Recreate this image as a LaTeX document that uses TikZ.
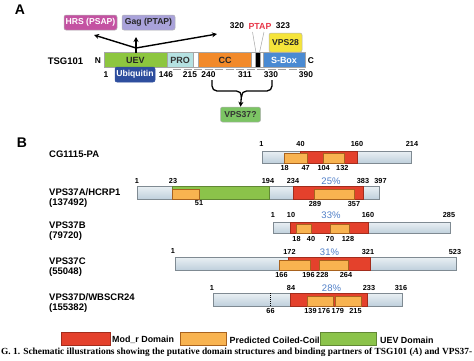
\documentclass[tikz,border=0pt]{standalone}
\usepackage{fontspec}
\setmainfont{Liberation Sans}
\newfontfamily\capfont{Liberation Serif}
\usetikzlibrary{arrows.meta}
\definecolor{hrs}{HTML}{C452A2}
\definecolor{gag}{HTML}{A9A2DA}
\definecolor{uev}{HTML}{8DC63F}
\definecolor{pro}{HTML}{B5E2E2}
\definecolor{ccA}{HTML}{F28A2A}
\definecolor{sbox}{HTML}{4A8AD2}
\definecolor{ubq}{HTML}{2E4E9E}
\definecolor{vps28}{HTML}{F5E43A}
\definecolor{vps37}{HTML}{7CC464}
\definecolor{ptap}{HTML}{E8384A}
\definecolor{barTop}{HTML}{EAF0F4}
\definecolor{barBot}{HTML}{BFD0DC}
\definecolor{barLine}{HTML}{7F8A92}
\definecolor{modr}{HTML}{E4412C}
\definecolor{modrLine}{HTML}{A22C1C}
\definecolor{ccB}{HTML}{F8B350}
\definecolor{ccLine}{HTML}{A8621E}
\definecolor{uevB}{HTML}{8BC34A}
\definecolor{pct}{HTML}{4F7FC8}
\tikzset{
  pbox/.style={rounded corners=2pt, draw=gray!60, line width=0.5pt, inner sep=0,
    font=\bfseries\fontsize{8.6}{9}\selectfont},
  seglbl/.style={font=\bfseries\fontsize{9}{10}\selectfont, inner sep=0},
  numA/.style={font=\bfseries\fontsize{8.4}{9}\selectfont, inner sep=0},
  numB/.style={font=\bfseries\fontsize{7.3}{8}\selectfont, inner sep=0},
  pctlbl/.style={font=\fontsize{9.5}{10}\selectfont, text=pct, inner sep=0},
  pname/.style={font=\bfseries\fontsize{9.5}{11}\selectfont, anchor=west, inner sep=0},
  conn/.style={line width=1.4pt, -{Stealth[length=5pt,width=5pt]}},
  bar/.style={draw=barLine, line width=0.6pt, top color=barTop, bottom color=barBot},
  modrbox/.style={draw=modrLine, line width=0.5pt, fill=modr},
  ccbox/.style={draw=ccLine, line width=0.5pt, fill=ccB},
  uevbox/.style={draw=uevB!70!black, line width=0.5pt, fill=uevB},
  panel/.style={font=\bfseries\fontsize{14}{14}\selectfont, inner sep=0},
  legtxt/.style={font=\bfseries\fontsize{8.9}{10}\selectfont, anchor=west, inner sep=0}
}
\begin{document}
\begin{tikzpicture}[x=1pt,y=-1pt]
\useasboundingbox (0,0) rectangle (474,360);
\fill[white] (0,0) rectangle (474,360);

% ---------------- Panel A ----------------
\node[panel] (labA) at (20,10) {A};
\node[pbox, fill=hrs, text=white, minimum width=53pt, minimum height=15pt] (hrs) at (90.5,22.5) {HRS (PSAP)};
\node[pbox, fill=gag, text=black!85, minimum width=53pt, minimum height=15pt] (gag) at (148.5,22.5) {Gag (PTAP)};

\node[font=\bfseries\fontsize{9.5}{10}\selectfont, inner sep=0] (tsg) at (65.5,61) {TSG101};
\node[numA] (nN) at (98,60.5) {N};
\node[numA] (nC) at (311,60.5) {C};

% bar segments
\fill[uev] (104,52.5) rectangle (167,67);
\fill[pro] (167,52.5) rectangle (193,67);
\fill[white] (193,52.5) rectangle (198,67);
\fill[ccA] (198,52.5) rectangle (251,67);
\fill[white] (251,52.5) rectangle (255,67);
\fill[black] (255,52.5) rectangle (260,67);
\fill[white] (260,52.5) rectangle (263,67);
\fill[sbox] (263,52.5) rectangle (305,67);
\draw[gray!70, line width=0.4pt] (104,52.5) rectangle (305,67);
\foreach \xx in {167,193,198,251,255,260,263} \draw[gray!70, line width=0.4pt] (\xx,52.5) -- (\xx,67);

\node[seglbl, text=black!85] (tUEV) at (135.5,60) {UEV};
\node[seglbl, text=black!80] (tPRO) at (180,60) {PRO};
\node[seglbl, text=black!85] (tCC) at (225,60) {CC};
\node[seglbl, text=white] (tSB) at (284,60) {S-Box};

\draw[gray!75, line width=1.3pt, dash pattern=on 8pt off 2.5pt] (173,69.3) -- (305,69.3);

\node[pbox, fill=ubq, text=white, draw=ubq, minimum width=40pt, minimum height=15pt] (ubq) at (135,74.5) {Ubiquitin};

\node[numA] (a1) at (106,74.5) {1};
\node[numA] (a146) at (166,74.5) {146};
\node[numA] (a215) at (190,74.5) {215};
\node[numA] (a240) at (208.5,74.5) {240};
\node[numA] (a311) at (245,74.5) {311};
\node[numA] (a330) at (271,74.5) {330};
\node[numA] (a390) at (306,74.5) {390};

% arrows to binding partners
\coordinate (uevtop) at (136,52.5);
\coordinate (hub) at (136,48);
\coordinate (lt) at (94,35);
\coordinate (rt) at (217,34);
\coordinate (upt) at (136,37);
\draw[line width=1.4pt] (uevtop) -- (hub);
\draw[conn] (hub) -- (lt);
\draw[conn] (hub) -- (rt);
\draw[conn] (uevtop) -- (upt);

% PTAP
\node[numA] (a320) at (237,26) {320};
\node[font=\bfseries\fontsize{8.8}{9}\selectfont, text=ptap, inner sep=0] (ptap) at (260,26) {PTAP};
\node[numA] (a323) at (283,26) {323};
\coordinate (pl1) at (252.5,32);
\coordinate (pl2) at (256,52.5);
\coordinate (pr1) at (264,32);
\coordinate (pr2) at (259.5,52.5);
\draw[gray!70, line width=0.5pt] (pl1) -- (pl2);
\draw[gray!70, line width=0.5pt] (pr1) -- (pr2);

\node[pbox, fill=vps28, text=black!85, minimum width=33pt, minimum height=19pt] (vps28) at (285.5,42.5) {VPS28};

% brace to VPS37?
\node[pbox, fill=vps37, text=black!80, minimum width=40pt, minimum height=15pt] (vps37) at (240.5,114.5) {VPS37?};
\coordinate (brL) at (212,80);
\coordinate (brR) at (272,80);
\coordinate (brC) at (241.5,91);
\draw[line width=1.3pt, rounded corners=5pt] (brL) -- (212,91) -- (brC) -- (241.5,97);
\draw[line width=1.3pt, rounded corners=5pt] (brR) -- (272,91) -- (brC) -- (241.5,97);
\draw[line width=1.3pt, -{Stealth[length=5pt,width=5pt]}] (241.5,95) -- (vps37.north);

% ---------------- Panel B ----------------
\node[panel] (labB) at (22,143) {B};

\node[pname] (nCG) at (49,154) {CG1115-PA};
\node[pname] (nA) at (49,192) {VPS37A/HCRP1};
\node[pname] (nAid) at (49,203) {(137492)};
\node[pname] (nB) at (49,225.5) {VPS37B};
\node[pname] (nBid) at (49,236.5) {(79720)};
\node[pname] (nC3) at (49,261) {VPS37C};
\node[pname] (nCid) at (49,272) {(55048)};
\node[pname] (nD) at (49,297) {VPS37D/WBSCR24};
\node[pname] (nDid) at (49,308) {(155382)};

% CG1115-PA
\draw[bar] (262,151) rectangle (411,163);
\draw[modrbox] (300,151) rectangle (357,163);
\draw[ccbox] (284,153.5) rectangle (307,163);
\draw[ccbox] (323,153.5) rectangle (344,163);
\node[numB] (cg1) at (261.5,143.5) {1};
\node[numB] (cg40) at (300.5,143.5) {40};
\node[numB] (cg160) at (357,143.5) {160};
\node[numB] (cg214) at (412,143.5) {214};
\node[numB] (cg18) at (284.7,167.5) {18};
\node[numB] (cg47) at (305.7,167.5) {47};
\node[numB] (cg104) at (323.7,167.5) {104};
\node[numB] (cg132) at (342.3,167.5) {132};

% VPS37A
\draw[bar] (137,186) rectangle (379,199);
\draw[uevbox] (172,186) rectangle (269,199);
\draw[modrbox] (293,186) rectangle (363,199);
\draw[ccbox] (172,189) rectangle (199,199);
\draw[ccbox] (314,189) rectangle (354,199);
\node[numB] (va1) at (137,181) {1};
\node[numB] (va23) at (173,181) {23};
\node[numB] (va194) at (268,181) {194};
\node[numB] (va234) at (293,181) {234};
\node[pctlbl] (va25) at (331,181) {25\%};
\node[numB] (va383) at (363,181) {383};
\node[numB] (va397) at (380.5,181) {397};
\node[numB] (va51) at (199,203.5) {51};
\node[numB] (va289) at (315,203.5) {289};
\node[numB] (va357) at (354,203.5) {357};

% VPS37B
\draw[bar] (273,222) rectangle (450,233.5);
\draw[modrbox] (290,222) rectangle (368,233.5);
\draw[ccbox] (296,224.5) rectangle (311,233.5);
\draw[ccbox] (330,224.5) rectangle (349,233.5);
\node[numB] (vb1) at (273,215) {1};
\node[numB] (vb10) at (291,215) {10};
\node[pctlbl] (vb33) at (331,215) {33\%};
\node[numB] (vb160) at (368,215) {160};
\node[numB] (vb285) at (449,215) {285};
\node[numB] (vb18) at (296.5,239) {18};
\node[numB] (vb40) at (311,239) {40};
\node[numB] (vb70) at (330,239) {70};
\node[numB] (vb128) at (348,239) {128};

% VPS37C
\draw[bar] (175,257) rectangle (456,270);
\draw[modrbox] (288,257) rectangle (370,270);
\draw[ccbox] (279,260) rectangle (310,270);
\draw[ccbox] (319,260) rectangle (348,270);
\node[numB] (vc1) at (173,250.5) {1};
\node[numB] (vc172) at (289.5,252) {172};
\node[pctlbl] (vc31) at (329.5,252) {31\%};
\node[numB] (vc321) at (368,252) {321};
\node[numB] (vc523) at (455,252) {523};
\node[numB] (vc166) at (281.5,274.5) {166};
\node[numB] (vc196) at (308.5,274.5) {196};
\node[numB] (vc228) at (322.3,274.5) {228};
\node[numB] (vc264) at (346,274.5) {264};

% VPS37D
\draw[bar] (213,293) rectangle (402,306);
\draw[modrbox] (290,293) rectangle (367,306);
\draw[ccbox] (307,296) rectangle (333,306);
\draw[ccbox] (335,296) rectangle (361,306);
\draw[black, line width=0.7pt, dash pattern=on 1pt off 1pt] (270.5,293) -- (270.5,306);
\node[numB] (vd1) at (212,287.5) {1};
\node[numB] (vd84) at (291,288) {84};
\node[pctlbl] (vd28) at (331.5,288) {28\%};
\node[numB] (vd233) at (369,288) {233};
\node[numB] (vd316) at (401,288) {316};
\node[numB] (vd66) at (270.5,311) {66};
\node[numB] (vd139) at (310.5,311) {139};
\node[numB] (vd176) at (324,311) {176};
\node[numB] (vd179) at (337.8,311) {179};
\node[numB] (vd215) at (355.5,311) {215};

% Legend
\draw[modrbox] (61,332.5) rectangle (110.5,345.5);
\node[legtxt] (lg1) at (112,340) {Mod\_r Domain};
\draw[ccbox] (180,332.5) rectangle (226.5,345.5);
\node[legtxt] (lg2) at (229.5,340) {Predicted Coiled-Coil};
\draw[uevbox] (320,332.5) rectangle (376.5,345.5);
\node[legtxt] (lg3) at (380,340) {UEV Domain};

% Caption
\node[anchor=west, inner sep=0, font=\capfont\bfseries\fontsize{9.1}{10}\selectfont] (cap) at (1,352)
  {\resizebox{471pt}{!}{G. 1. Schematic illustrations showing the putative domain structures and binding partners of TSG101 (\textit{A}) and VPS37-}};
\end{tikzpicture}
\end{document}
